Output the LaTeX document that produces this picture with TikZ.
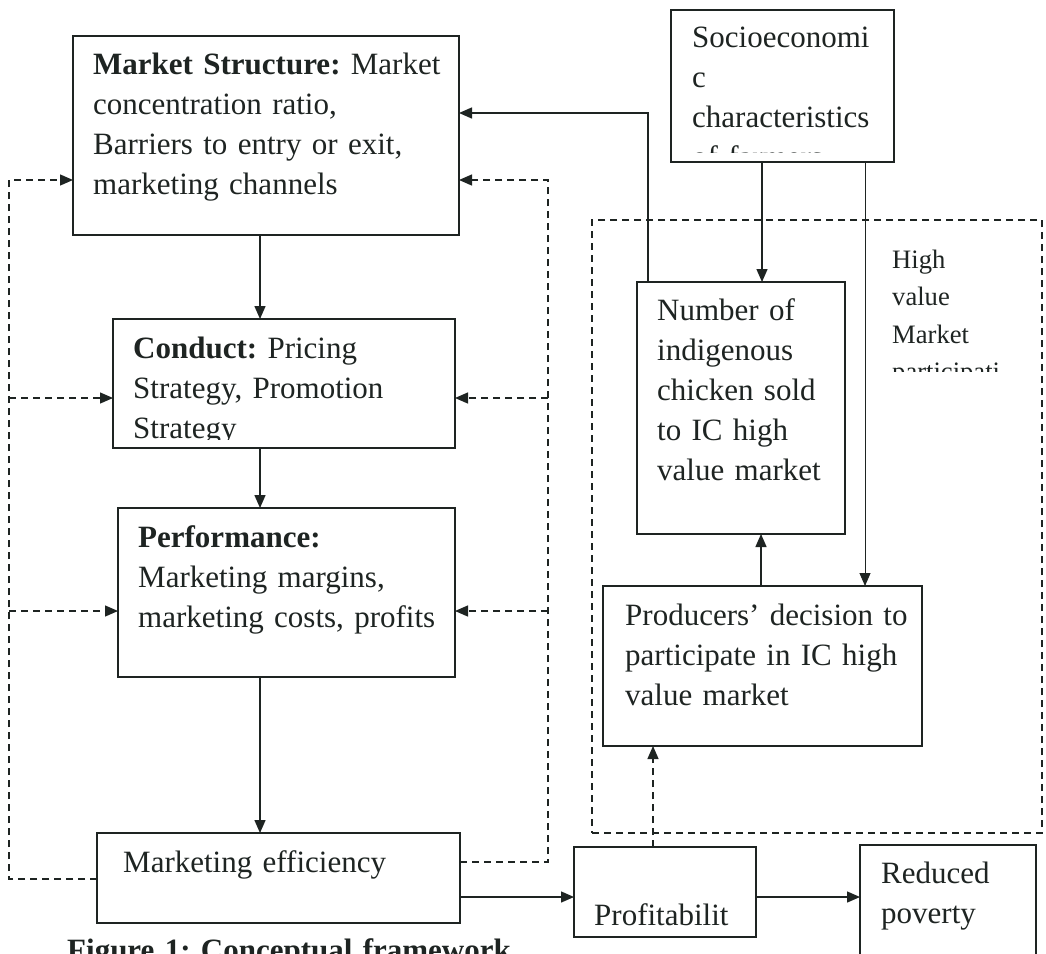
\documentclass[tikz,border=0pt]{standalone}
\usepackage{fontspec}
\setmainfont{Liberation Serif}
\usetikzlibrary{arrows.meta}
\frenchspacing
\definecolor{ink}{RGB}{30,36,34}
\newcommand{\boxfont}{\fontsize{31}{40}\selectfont}
\newcommand{\notefont}{\fontsize{26.6}{37.5}\selectfont}
\tikzset{
  blk/.style 2 args={draw=ink, line width=1.6pt, inner sep=0pt, outer sep=0pt,
    minimum width=#1, minimum height=#2},
  dblk/.style 2 args={blk={#1}{#2}, line width=1.3pt, dash pattern=on 7pt off 5pt},
  txt/.style={anchor=base west, inner sep=0pt, align=left, text width=#1,
    text=ink, font=\boxfont},
  txt/.default=400pt,
  arr/.style={draw=ink, line width=1.4pt, -{Triangle[length=13pt,width=11pt]}},
  darr/.style={arr, line width=1.3pt, dash pattern=on 7pt off 5pt},
}
\begin{document}
\begin{tikzpicture}[x=1pt,y=-1pt]
  \useasboundingbox[fill=white] (0,0) rectangle (1046,953);

  %% S-C-P column
  \node[blk={386pt}{199pt}] (ms) at (266,135.5) {};
  \node[blk={342pt}{129pt}] (cond) at (284,383.5) {};
  \node[blk={337pt}{169pt}] (perf) at (286.5,592.5) {};
  \node[blk={363pt}{90pt}] (me) at (278.5,878) {};

  \node[txt] (mstxt) at (93,74) {\textbf{Market Structure:} Market\\concentration ratio,\\Barriers to entry or exit,\\marketing channels};
  \begin{scope}
    \clip (113,319) rectangle (455,439);
    \node[txt] (condtxt) at (133,358) {\textbf{Conduct:} Pricing\\Strategy, Promotion\\Strategy};
  \end{scope}
  \node[txt] (perftxt) at (138,547) {\textbf{Performance:}\\Marketing margins,\\marketing costs, profits};
  \node[txt] (metxt) at (123,872) {Marketing efficiency};

  %% high value market side
  \node[dblk={450pt}{613pt}] (hv) at (817,526.5) {};
  \node[blk={223pt}{152pt}] (soc) at (782.5,86) {};
  \node[blk={208pt}{252pt}] (num) at (741,408) {};
  \node[blk={319pt}{160pt}] (prod) at (762.5,666) {};
  \node[blk={182pt}{90pt}] (prof) at (665,892) {};
  \node[blk={176pt}{155pt}] (pov) at (948,922.5) {};

  \begin{scope}
    \clip (671,10) rectangle (894,152.5);
    \node[txt] (soctxt) at (692,47) {Socioeconomi\\c\\characteristics\\of farmers};
  \end{scope}
  \begin{scope}
    \clip (880,230) rectangle (1030,371);
    \node[txt, font=\notefont] (hvtxt) at (892,268) {High\\value\\Market\\participati};
  \end{scope}
  \node[txt] (numtxt) at (657,320) {Number of\\indigenous\\chicken sold\\to IC high\\value market};
  \node[txt] (prodtxt) at (625,625) {Producers’ decision to\\participate in IC high\\value market};
  \node[txt] (proftxt) at (594,925) {Profitabilit};
  \node[txt] (povtxt) at (881,883) {Reduced\\poverty};

  \node[txt=520pt, font=\boxfont\bfseries] (cap) at (67,960) {Figure 1: Conceptual framework};

  %% solid links
  \coordinate (spine) at (260,0);
  \draw[arr] (ms.south -| spine) -- (cond.north -| spine);
  \draw[arr] (cond.south -| spine) -- (perf.north -| spine);
  \draw[arr] (perf.south -| spine) -- (me.north -| spine);
  \draw[arr] (me.east |- 0,897) -- (prof.west |- 0,897);
  \draw[arr] (prof.east |- 0,897) -- (pov.west |- 0,897);
  \draw[arr] (soc.south -| 762,0) -- (num.north -| 762,0);
  \draw[arr, line width=1pt] (soc.south -| 865,0) -- (prod.north -| 865,0);
  \draw[arr] (prod.north -| 761,0) -- (num.south -| 761,0);
  \draw[arr] (num.north -| 648,0) |- (ms.east |- 0,113);
  \draw[darr] (prof.north -| 653,0) -- (prod.south -| 653,0);

  %% feedback loops (dashed)
  \coordinate (fbL) at (9,0);
  \coordinate (fbR) at (548,0);
  \draw[darr] (me.west |- 0,879) -- (fbL |- 0,879) -- (fbL |- 0,180) -- (ms.west |- 0,180);
  \draw[darr] (fbL |- 0,398) -- (cond.west |- 0,398);
  \draw[darr] (fbL |- 0,611) -- (perf.west |- 0,611);
  \draw[darr] (me.east |- 0,862) -- (fbR |- 0,862) -- (fbR |- 0,180) -- (ms.east |- 0,180);
  \draw[darr] (fbR |- 0,398) -- (cond.east |- 0,398);
  \draw[darr] (fbR |- 0,611) -- (perf.east |- 0,611);

\end{tikzpicture}
\end{document}
